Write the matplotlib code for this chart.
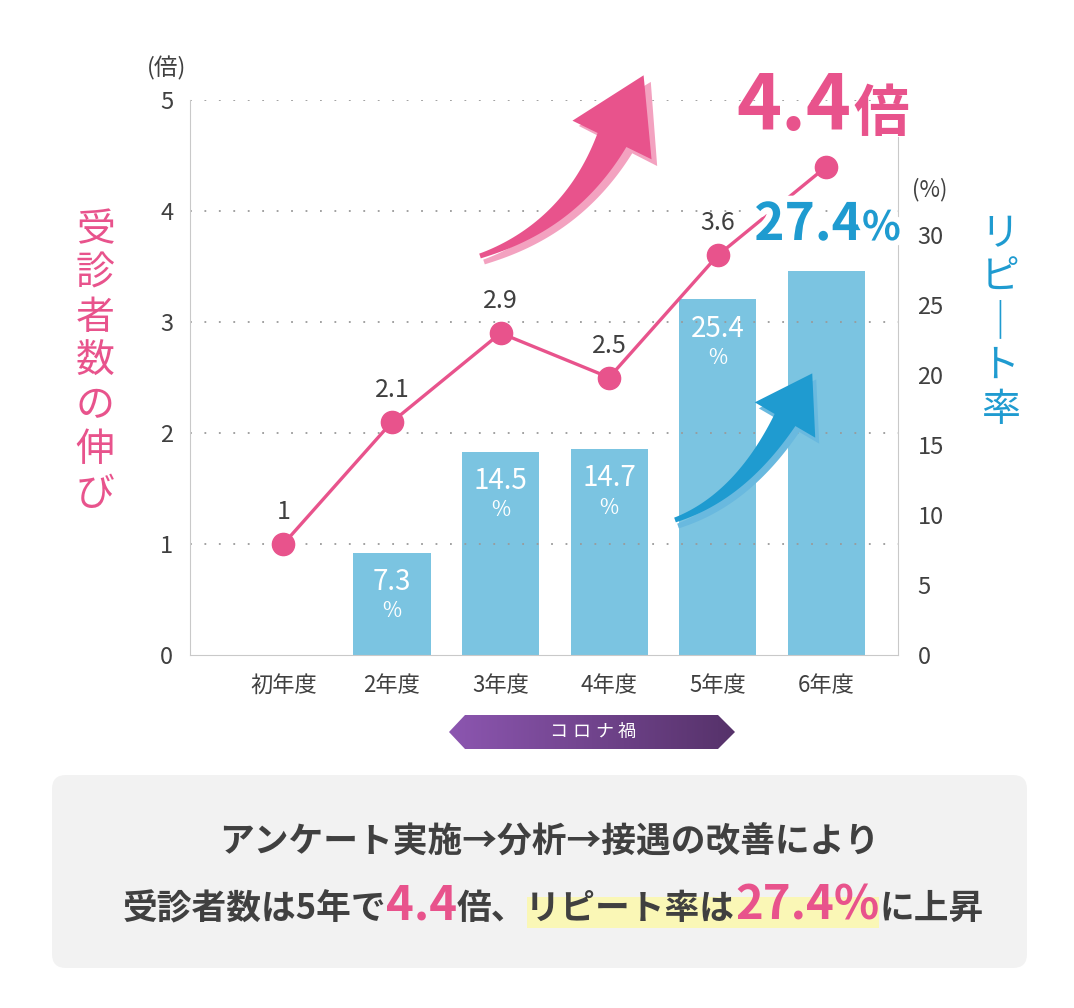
import matplotlib
matplotlib.use('Agg')
import matplotlib.pyplot as plt
import numpy as np
from matplotlib.patches import Polygon, FancyBboxPatch, Rectangle
from matplotlib.colors import LinearSegmentedColormap
import matplotlib.patheffects as pe

plt.rcParams['font.family'] = ['Noto Sans CJK JP', 'DejaVu Sans']

# ---------------- data ----------------
categories = ['初年度', '2年度', '3年度', '4年度', '5年度', '6年度']
patients_growth = [1, 2.1, 2.9, 2.5, 3.6, 4.4]          # 受診者数の伸び (倍)
repeat_rate = [None, 7.3, 14.5, 14.7, 25.4, 27.4]       # リピート率 (%)
left_ticks = [0, 1, 2, 3, 4, 5]
right_ticks = [0, 5, 10, 15, 20, 25, 30]

PINK = '#E8538C'
PINK_L = '#F3A2C0'
BLUE = '#1F9BD0'
BLUE_L = '#69B9DF'
BAR = '#7BC4E1'
DARK = '#404040'
GRID = '#9A9A9A'
SPINE = '#C9C9C9'

W, H = 1074, 1008
fig = plt.figure(figsize=(W / 100, H / 100), dpi=100)

ax_bar = fig.add_axes([190 / W, 1 - 655 / H, (898 - 190) / W, (655 - 100) / H])
ax_line = ax_bar.twinx()
ax_bar.yaxis.tick_right()
ax_bar.yaxis.set_label_position('right')
ax_line.yaxis.tick_left()
ax_line.yaxis.set_label_position('left')

x = np.arange(len(categories))
bx = [i for i, v in enumerate(repeat_rate) if v is not None]
bv = [v for v in repeat_rate if v is not None]
ax_bar.bar(bx, bv, width=0.71, color=BAR, zorder=1)
# in-bar labels (the last bar is called out by the large headline instead)
for xi, v in zip(bx[:-1], bv[:-1]):
    ax_bar.annotate(f'{v:g}', (xi, v), xytext=(0, -21), textcoords='offset points',
                    ha='center', va='center', fontsize=20, color='white', zorder=2)
    ax_bar.annotate('%', (xi, v), xytext=(0, -42), textcoords='offset points',
                    ha='center', va='center', fontsize=15, color='white', zorder=2)

xlim = (-0.86, 5.66)
ax_bar.set_xlim(*xlim)
ax_bar.set_ylim(0, 39.64)
ax_line.set_ylim(0, 5)

# grid (dotted) on the line axes, below the line
ax_line.hlines(left_ticks[1:], xlim[0], xlim[1], colors=GRID, linestyles=(0, (1, 7)),
               linewidth=1.3, zorder=1)
ax_line.plot(x, patients_growth, color=PINK, lw=2.4, marker='o', ms=16, zorder=3)
# point labels (the last point is called out by the large headline instead)
for xi, v in zip(x[:-1], patients_growth[:-1]):
    ax_line.annotate(f'{v:g}', (xi, v), xytext=(0, 23), textcoords='offset points',
                     ha='center', va='center', fontsize=18, color=DARK, zorder=4)

ax_bar.set_xticks(x)
ax_bar.set_xticklabels(categories, fontsize=16, color=DARK)
ax_bar.set_yticks(right_ticks)
ax_bar.set_yticklabels([str(t) for t in right_ticks], fontsize=17, color=DARK)
ax_line.set_yticks(left_ticks)
ax_line.set_yticklabels([str(t) for t in left_ticks], fontsize=17, color=DARK)
ax_bar.tick_params(axis='x', length=0, pad=14)
ax_bar.tick_params(axis='y', length=0, pad=14)
ax_line.tick_params(axis='y', length=0, pad=12)

for a in (ax_bar, ax_line):
    for s in a.spines.values():
        s.set_visible(False)
ax_line.spines['left'].set_visible(True)
ax_line.spines['left'].set_color(SPINE)
ax_bar.spines['bottom'].set_visible(True)
ax_bar.spines['bottom'].set_color(SPINE)
ax_bar.spines['right'].set_visible(True)
ax_bar.spines['right'].set_color(SPINE)
ax_bar.spines['right'].set_bounds(0, 37)

# ---------------- overlay (pixel coords) ----------------
ov = fig.add_axes([0, 0, 1, 1])
ov.set_zorder(10)
ov.patch.set_visible(False)
ov.axis('off')


def curved_arrow(p0, p1, p2, w0, w1, head_len, head_half, color, z):
    t = np.linspace(0, 1, 50)
    P0, P1, P2 = map(np.array, (p0, p1, p2))
    c = ((1 - t) ** 2)[:, None] * P0 + (2 * (1 - t) * t)[:, None] * P1 + (t ** 2)[:, None] * P2
    d = (2 * (1 - t))[:, None] * (P1 - P0) + (2 * t)[:, None] * (P2 - P1)
    d = d / np.linalg.norm(d, axis=1)[:, None]
    n = np.stack([-d[:, 1], d[:, 0]], axis=1)
    w = w0 + (w1 - w0) * t ** 1.3
    left = c + n * w[:, None] / 2
    right = c - n * w[:, None] / 2
    tip = P2 + d[-1] * head_len
    hl = P2 + n[-1] * head_half
    hr = P2 - n[-1] * head_half
    pts = np.vstack([left, [hl, tip, hr], right[::-1]])
    ov.add_patch(Polygon(pts, closed=True, facecolor=color, edgecolor='none', zorder=z))


# pink arrow (shadow + main)
curved_arrow((484, 262), (574, 232), (618, 146), 5, 32, 72, 44, PINK_L, 2)
curved_arrow((480, 256), (570, 226), (612, 140), 5, 32, 72, 44, PINK, 3)
# blue arrow
curved_arrow((678, 526), (744, 503), (789, 426), 5, 24, 54, 35, BLUE_L, 2)
curved_arrow((675, 520), (740, 497), (785, 420), 5, 24, 54, 35, BLUE, 3)

# big headline numbers
ov.text(851, 130, '4.4', fontsize=55, weight='bold', color=PINK, ha='right', va='baseline', zorder=5)
ov.text(853, 131, '倍', fontsize=40, weight='bold', color=PINK, ha='left', va='baseline', zorder=5)
stroke = [pe.withStroke(linewidth=9, foreground='white')]
ov.text(862, 240, '27.4', fontsize=37, weight='bold', color=BLUE, ha='right', va='baseline',
        zorder=5, path_effects=stroke)
ov.text(862, 240, '%', fontsize=29, weight='bold', color=BLUE, ha='left', va='baseline',
        zorder=5, path_effects=stroke)

# unit labels
ov.text(167, 68, '(倍)', fontsize=17, color=DARK, ha='center', va='center')
ov.text(930, 190, '(%)', fontsize=16, color=DARK, ha='center', va='center')

# vertical axis titles
ov.text(95, 362, '\n'.join('受診者数の伸び'), fontsize=28, color=PINK, ha='center', va='center',
        linespacing=1.13)
ov.text(1000, 322, '\n'.join('リピ｜ト率'), fontsize=28, color=BLUE, ha='center', va='center',
        linespacing=1.13)

# コロナ禍 banner with gradient
banner = Polygon([(449, 732), (465, 715), (718, 715), (735, 732), (718, 749), (465, 749)],
                 closed=True, facecolor='none', edgecolor='none')
ov.add_patch(banner)
cmap = LinearSegmentedColormap.from_list('purp', ['#8C56B0', '#56326A'])
grad = np.linspace(0, 1, 256)[None, :]
im = ov.imshow(grad, extent=[449, 735, 749, 715], cmap=cmap, aspect='auto', zorder=3)
im.set_clip_path(banner)
for i, ch in enumerate('コロナ禍'):
    ov.text(558 + i * 23, 732, ch, fontsize=13, color='white', ha='center', va='center', zorder=4)

# bottom message box
ov.add_patch(FancyBboxPatch((52, 775), 975, 193, boxstyle='round,pad=0,rounding_size=14',
                            facecolor='#F2F2F2', edgecolor='none', zorder=1))
ov.text(549, 841, 'アンケート実施→分析→接遇の改善により', fontsize=25, weight='bold', color=DARK,
        ha='center', va='center', zorder=3)

renderer = fig.canvas.get_renderer()
pieces = [('受診者数は5年で', 25, DARK), ('4.4', 34, PINK), ('倍、リピート率は', 25, DARK),
          ('27.4%', 34, PINK), ('に上昇', 25, DARK)]
texts, widths = [], []
for s, fs, c in pieces:
    t = ov.text(0, 919, s, fontsize=fs, color=c, weight='bold', ha='left', va='baseline', zorder=3)
    widths.append(t.get_window_extent(renderer).width)
    texts.append(t)
tmp = ov.text(0, 0, '倍、', fontsize=25, weight='bold')
pre_w = tmp.get_window_extent(renderer).width
tmp.remove()
x0 = 553 - sum(widths) / 2
starts = []
for t, wd in zip(texts, widths):
    t.set_x(x0)
    starts.append(x0)
    x0 += wd
hl_x0 = starts[2] + pre_w
hl_x1 = starts[3] + widths[3]
ov.add_patch(Rectangle((hl_x0, 897), hl_x1 - hl_x0, 31, facecolor='#FAF7B6', edgecolor='none', zorder=2))

ov.set_xlim(0, W)
ov.set_ylim(H, 0)

fig.savefig('out.png', dpi=100)
